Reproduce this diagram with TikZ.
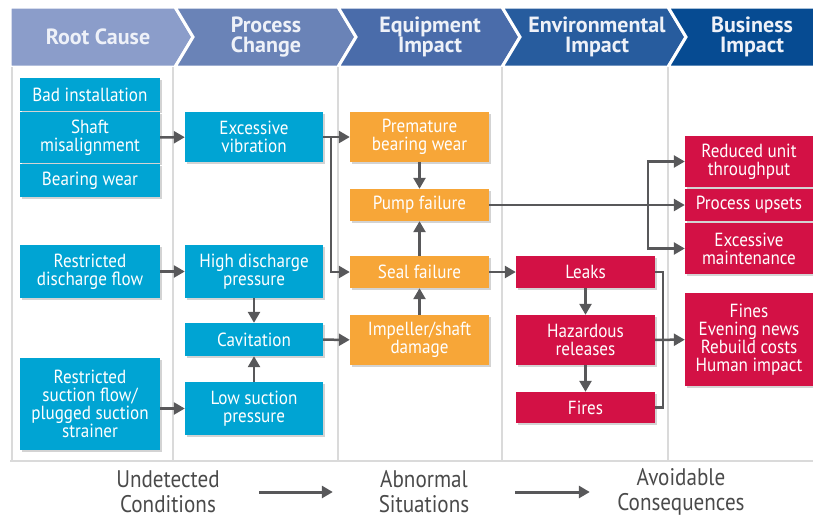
\documentclass[tikz,border=0pt]{standalone}
\usepackage{fontspec}
\setmainfont{PT Sans}
\newfontfamily\boxfont[FakeStretch=0.9]{PT Sans}
\newfontfamily\footfont[FakeStretch=0.88]{PT Sans}
\usetikzlibrary{arrows.meta,shadows}
\definecolor{rootblue}{HTML}{00A4D3}
\definecolor{equiporange}{HTML}{F7A638}
\definecolor{envred}{HTML}{D31145}
\definecolor{arrowgray}{HTML}{58585A}
\definecolor{gridgray}{HTML}{DADADA}
\definecolor{chevA}{HTML}{8B9DCA}
\definecolor{chevB}{HTML}{6A83B7}
\definecolor{chevC}{HTML}{4A6CAA}
\definecolor{chevD}{HTML}{275C9E}
\definecolor{chevE}{HTML}{064B92}
\definecolor{headtext}{HTML}{EEF1F8}
\definecolor{foottext}{HTML}{4A4A4A}

\begin{document}
\begin{tikzpicture}[x=1pt,y=-1pt,
    box/.style={align=center,text=white,inner sep=1pt,
        font=\boxfont\fontsize{19}{18}\selectfont,
        drop shadow={shadow xshift=1.5pt,shadow yshift=-1.5pt,opacity=.35}},
    cause/.style={box,fill=rootblue,minimum width=140pt},
    change/.style={box,fill=rootblue,minimum width=138pt},
    equip/.style={box,fill=equiporange,minimum width=139pt},
    env/.style={box,fill=envred,minimum width=139pt},
    biz/.style={box,fill=envred,minimum width=128pt},
    chev/.style={draw=white,line width=3pt,line join=miter},
    head/.style={align=center,text=headtext,
        font=\bfseries\fontsize{22}{20}\selectfont},
    foot/.style={align=center,text=foottext,minimum width=170pt,
        font=\footfont\fontsize{24}{25}\selectfont},
    flow/.style={draw=arrowgray,line width=2.5pt,
        -{Triangle[length=11pt,width=12pt]}},
    link/.style={draw=arrowgray,line width=2.5pt},
    grid/.style={draw=gridgray,line width=1.5pt}]
    \useasboundingbox (0,0) rectangle (813,520);

    % header chevrons
    \filldraw[chev,fill=chevA] (10,7) -- (175,7) -- (193,37) -- (175,67) -- (10,67) -- cycle;
    \filldraw[chev,fill=chevB] (175,7) -- (338,7) -- (356,37) -- (338,67) -- (175,67) -- (193,37) -- cycle;
    \filldraw[chev,fill=chevC] (338,7) -- (502,7) -- (520,37) -- (502,67) -- (338,67) -- (356,37) -- cycle;
    \filldraw[chev,fill=chevD] (502,7) -- (668,7) -- (686,37) -- (668,67) -- (502,67) -- (520,37) -- cycle;
    \filldraw[chev,fill=chevE] (668,7) -- (815,7) -- (815,67) -- (668,67) -- (686,37) -- cycle;
    \node[head] (rc) at (98,37) {Root Cause};
    \node[head] (pc) at (266,37) {Process\\Change};
    \node[head] (ei) at (430,37) {Equipment\\Impact};
    \node[head] (vi) at (597,37) {Environmental\\Impact};
    \node[head] (bi5) at (752,37) {Business\\Impact};

    % column rules
    \draw[grid] (12,67) -- (12,461);
    \draw[grid] (173,67) -- (173,461);
    \draw[grid] (338,67) -- (338,461);
    \draw[grid] (502,67) -- (502,461);
    \draw[grid] (668,67) -- (668,461);
    \draw[grid] (10,461) -- (813,461);

    % root causes
    \node[cause,minimum height=33pt] (bi) at (90,94.5) {Bad installation};
    \node[cause,minimum height=51pt] (sm) at (90,137.5) {Shaft\\misalignment};
    \node[cause,minimum height=33pt] (bw) at (90,180.5) {Bearing wear};
    \node[cause,minimum height=53pt] (rdf) at (90,271.5) {Restricted\\discharge flow};
    \node[cause,minimum height=92pt] (rsf) at (90,404) {Restricted\\suction flow/\\plugged suction\\strainer};

    % process change
    \node[change,minimum height=50pt] (ev) at (254,137) {Excessive\\vibration};
    \node[change,minimum height=53pt] (hdp) at (254,271.5) {High discharge\\pressure};
    \node[change,minimum height=33pt] (cav) at (254,339.5) {Cavitation};
    \node[change,minimum height=53pt] (lsp) at (254,408.5) {Low suction\\pressure};

    % equipment impact
    \node[equip,minimum height=50pt] (pbw) at (419.5,137) {Premature\\bearing wear};
    \node[equip,minimum height=32pt] (pf) at (419.5,205) {Pump failure};
    \node[equip,minimum height=32pt] (sf) at (419.5,272) {Seal failure};
    \node[equip,minimum height=50pt] (isd) at (419.5,340) {Impeller/shaft\\damage};

    % environmental impact
    \node[env,minimum height=32pt] (lk) at (585.5,272) {Leaks};
    \node[env,minimum height=50pt] (hr) at (585.5,340) {Hazardous\\releases};
    \node[env,minimum height=31pt] (fi) at (585.5,407.5) {Fires};

    % business impact
    \node[biz,minimum height=51pt] (rut) at (749,161.5) {Reduced unit\\throughput};
    \node[biz,minimum height=32pt] (pu) at (749,205) {Process upsets};
    \node[biz,minimum height=51pt] (em) at (749,248.5) {Excessive\\maintenance};
    \node[biz,minimum height=93pt] (fn) at (749,339.5) {Fines\\Evening news\\Rebuild costs\\Human impact};

    % connectors
    \draw[flow] (sm) -- (ev);
    \draw[flow] (ev) -- (pbw);
    \draw[flow] (ev.east) -- ++(8,0) |- (sf);
    \draw[flow] (rdf) -- (hdp);
    \draw[flow] (hdp) -- (cav);
    \draw[flow] (lsp) -- (cav);
    \draw[flow] (cav) -- (isd);
    \draw[flow] (rsf.east |- lsp) -- (lsp);
    \draw[flow] (pbw) -- (pf);
    \draw[flow] (sf) -- (pf);
    \draw[flow] (isd) -- (sf);
    \draw[flow] (sf) -- (lk);
    \draw[flow] (pf) -- (pu);
    \coordinate (bk) at (648,205);
    \draw[flow] (bk) |- (rut);
    \draw[flow] (bk) |- (em);
    \draw[flow] (lk) -- (hr);
    \draw[flow] (hr) -- (fi);
    \draw[link] (lk.east) -- ++(8,0) |- (fi.east);
    \draw[flow] (hr) -- (fn);

    % bottom legend
    \node[foot] (uc) at (168,492) {Undetected\\Conditions};
    \node[foot] (as) at (424,492) {Abnormal\\Situations};
    \node[foot] (ac) at (681,492) {Avoidable\\Consequences};
    \draw[flow,line width=3pt,shorten <=6pt,shorten >=6pt] (uc) -- (as);
    \draw[flow,line width=3pt,shorten <=6pt,shorten >=6pt] (as) -- (ac);
\end{tikzpicture}
\end{document}
